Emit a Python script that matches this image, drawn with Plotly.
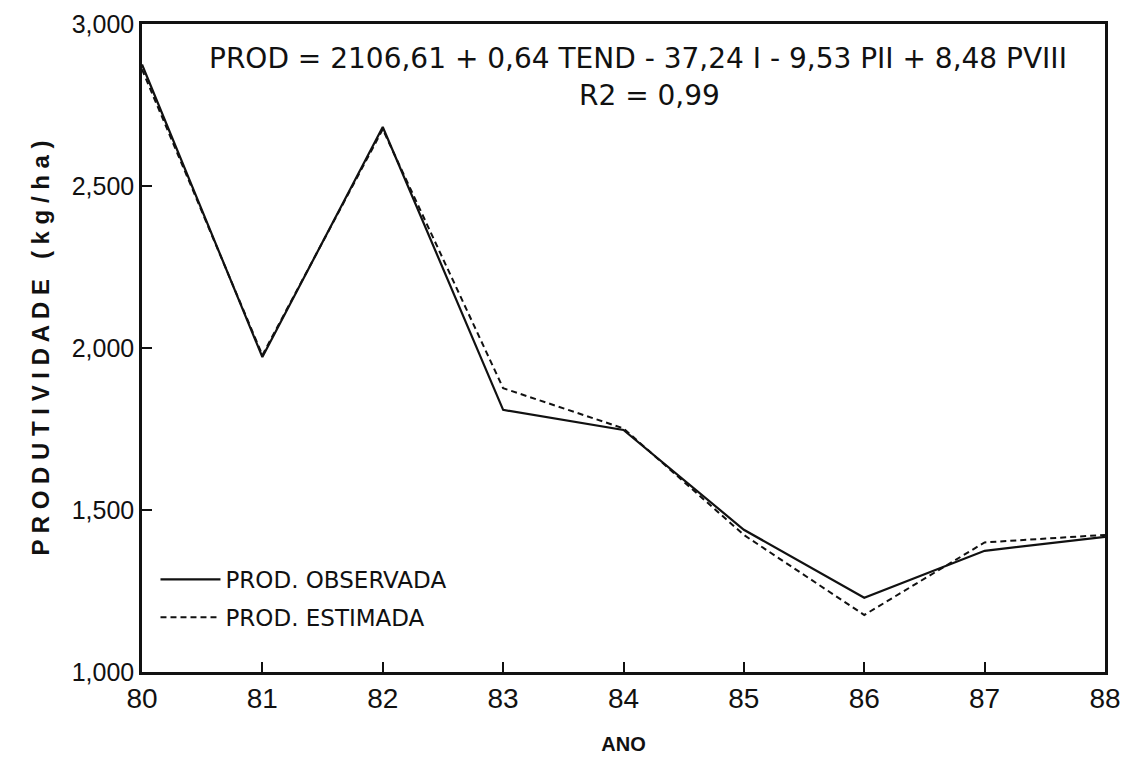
import plotly.graph_objects as go

anos = [80, 81, 82, 83, 84, 85, 86, 87, 88]
prod_observada = [2875, 1972, 2682, 1809, 1747, 1439, 1229, 1374, 1417]
prod_estimada = [2860, 1978, 2675, 1876, 1752, 1423, 1176, 1400, 1423]
y_ticks = [1000, 1500, 2000, 2500, 3000]
y_tick_text = ["1,000", "1,500", "2,000", "2,500", "3,000"]
x_ticks = [80, 81, 82, 83, 84, 85, 86, 87, 88]

FONT = "Liberation Sans, Arial, sans-serif"
WIDE = "DejaVu Sans, Liberation Sans, sans-serif"

fig = go.Figure()
fig.add_trace(go.Scatter(
    x=anos, y=prod_observada, mode="lines", name="PROD. OBSERVADA",
    line=dict(color="#111111", width=2.2), legendgroup="a"))
fig.add_trace(go.Scatter(
    x=anos, y=prod_estimada, mode="lines", name="PROD. ESTIMADA",
    line=dict(color="#111111", width=2, dash="6px,4px"), legendgroup="b"))

fig.update_layout(
    width=1127, height=758,
    margin=dict(l=142, r=22, t=24, b=86),
    paper_bgcolor="white", plot_bgcolor="white",
    font=dict(family=FONT, color="#111111"),
    showlegend=True,
    legend=dict(x=0.014, y=0.176, xanchor="left", yanchor="top",
                bgcolor="rgba(0,0,0,0)", font=dict(size=23, family=WIDE),
                tracegroupgap=5, itemwidth=60),
    xaxis=dict(range=[80, 88], tickvals=x_ticks, ticks="inside", ticklen=10,
               tickwidth=2, tickcolor="#111111",
               showline=True, linecolor="#111111", linewidth=2.5, mirror=True,
               showgrid=False, zeroline=False, automargin=False,
               tickfont=dict(size=28, family=FONT),
               title=dict(text="<b>ANO</b>", font=dict(size=20, family=FONT), standoff=24)),
    yaxis=dict(range=[1000, 3000], tickvals=y_ticks, ticktext=y_tick_text,
               ticks="inside", ticklen=10, tickwidth=2, tickcolor="#111111",
               showline=True, linecolor="#111111", linewidth=2.5, mirror=True,
               showgrid=False, zeroline=False, automargin=False,
               tickfont=dict(size=25, family=FONT),
               title=dict(text="<b>P R O D U T I V I D A D E   ( k g / h a )</b>",
                          font=dict(size=24, family=FONT), standoff=16)),
)

fig.add_annotation(xref="paper", yref="paper", x=0.515, y=0.947,
                   text="PROD = 2106,61 + 0,64 TEND - 37,24 I - 9,53 PII + 8,48 PVIII",
                   showarrow=False, font=dict(size=28, family=WIDE),
                   xanchor="center", yanchor="middle")
fig.add_annotation(xref="paper", yref="paper", x=0.527, y=0.889,
                   text="R2 = 0,99",
                   showarrow=False, font=dict(size=28, family=WIDE),
                   xanchor="center", yanchor="middle")

fig.write_html("out.html")
